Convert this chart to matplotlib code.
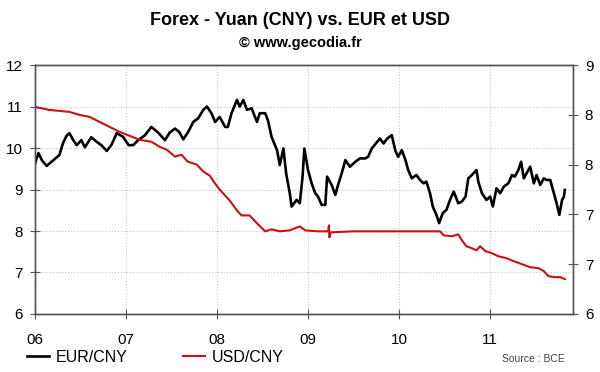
import matplotlib
matplotlib.use("Agg")
import matplotlib.pyplot as plt

plt.rcParams['font.family'] = ['Liberation Sans', 'DejaVu Sans']

# time in years since Jan 2006
t_eur = [0.00, 0.02, 0.04, 0.08, 0.13, 0.20, 0.27, 0.31, 0.35, 0.38, 0.42, 0.46, 0.51, 0.55,
         0.62, 0.68, 0.73, 0.79, 0.84, 0.90, 0.97, 1.03, 1.08, 1.135, 1.21, 1.28, 1.355, 1.43,
         1.48, 1.54, 1.585, 1.63, 1.685, 1.74, 1.795, 1.85, 1.89, 1.94, 1.98, 2.03, 2.09, 2.12,
         2.16, 2.22, 2.25, 2.29, 2.33, 2.38, 2.44, 2.47, 2.53, 2.56, 2.60, 2.66, 2.69, 2.73,
         2.76, 2.80, 2.82, 2.875, 2.91, 2.94, 2.96, 3.00, 3.04, 3.08, 3.11, 3.15, 3.19, 3.21,
         3.26, 3.30, 3.33, 3.37, 3.41, 3.46, 3.52, 3.57, 3.63, 3.66, 3.70, 3.73, 3.79, 3.83,
         3.87, 3.92, 3.96, 3.99, 4.03, 4.07, 4.10, 4.14, 4.19, 4.23, 4.27, 4.30, 4.34, 4.37,
         4.41, 4.44, 4.48, 4.52, 4.56, 4.60, 4.65, 4.69, 4.73, 4.76, 4.80, 4.85, 4.87, 4.91,
         4.96, 5.00, 5.03, 5.07, 5.11, 5.15, 5.20, 5.24, 5.27, 5.31, 5.34, 5.37, 5.40, 5.44,
         5.48, 5.51, 5.55, 5.59, 5.62, 5.66, 5.70, 5.73, 5.76, 5.79, 5.81, 5.82]
eur_cny = [9.60, 9.75, 9.88, 9.70, 9.57, 9.70, 9.83, 10.12, 10.30, 10.36, 10.20, 10.07, 10.19, 10.02,
           10.26, 10.15, 10.07, 9.93, 10.07, 10.36, 10.27, 10.07, 10.07, 10.19, 10.31, 10.51, 10.37, 10.19,
           10.37, 10.47, 10.39, 10.21, 10.39, 10.63, 10.72, 10.92, 11.00, 10.84, 10.63, 10.75, 10.51, 10.51,
           10.84, 11.16, 11.00, 11.16, 10.92, 10.96, 10.63, 10.84, 10.84, 10.67, 10.27, 9.95, 9.59, 9.99,
           9.39, 8.91, 8.59, 8.75, 8.67, 9.30, 9.99, 9.47, 9.15, 8.91, 8.83, 8.63, 8.63, 9.31,
           9.11, 8.87, 9.11, 9.39, 9.71, 9.55, 9.67, 9.75, 9.75, 9.79, 9.99, 10.07, 10.23, 10.11,
           10.23, 10.31, 9.93, 9.79, 9.95, 9.71, 9.47, 9.27, 9.35, 9.23, 9.15, 9.19, 8.91, 8.59,
           8.39, 8.19, 8.43, 8.51, 8.75, 8.95, 8.67, 8.71, 8.83, 9.27, 9.35, 9.47, 9.19, 8.91,
           8.75, 8.83, 8.59, 9.03, 8.91, 9.07, 9.15, 9.35, 9.31, 9.47, 9.67, 9.27, 9.39, 9.55,
           9.15, 9.35, 9.11, 9.27, 9.23, 9.23, 8.91, 8.67, 8.39, 8.75, 8.83, 8.99]

t_usd = [0.00, 0.16, 0.38, 0.49, 0.60, 0.71, 0.82, 0.93, 1.04, 1.15, 1.28, 1.37, 1.45, 1.54,
         1.61, 1.68, 1.78, 1.85, 1.92, 1.98, 2.03, 2.07, 2.14, 2.22, 2.27, 2.36, 2.44, 2.53,
         2.60, 2.69, 2.80, 2.91, 2.97, 3.10, 3.22, 3.23, 3.235, 3.25, 3.50, 4.00, 4.45, 4.49,
         4.58, 4.65, 4.69, 4.74, 4.80, 4.85, 4.89, 4.95, 5.02, 5.09, 5.18, 5.26, 5.35, 5.44,
         5.53, 5.59, 5.64, 5.70, 5.77, 5.82]
usd_cny = [8.08, 8.05, 8.03, 8.00, 7.98, 7.93, 7.88, 7.83, 7.79, 7.75, 7.73, 7.68, 7.65, 7.58,
           7.60, 7.53, 7.50, 7.43, 7.39, 7.31, 7.25, 7.21, 7.14, 7.04, 6.99, 6.99, 6.91, 6.83,
           6.85, 6.83, 6.84, 6.88, 6.84, 6.83, 6.83, 6.89, 6.77, 6.82, 6.83, 6.83, 6.83, 6.79,
           6.78, 6.80, 6.74, 6.68, 6.66, 6.64, 6.68, 6.63, 6.61, 6.58, 6.56, 6.53, 6.50, 6.47,
           6.46, 6.43, 6.38, 6.37, 6.37, 6.35]

year_labels = ['06', '07', '08', '09', '10', '11']
right_ticks = [6, 6.5, 7, 7.5, 8, 8.5]
right_labels = ['6', '7', '7', '8', '8', '9']

fig = plt.figure(figsize=(6, 3.72), dpi=100)
ax = fig.add_axes([0.058, 0.156, 0.897, 0.669])
ax2 = ax.twinx()

ax.plot(t_eur, eur_cny, color='black', lw=1.9, label='EUR/CNY')
ax2.plot(t_usd, usd_cny, color='#cc1010', lw=1.5, label='USD/CNY')

ax.set_xlim(0, 5.91)
ax.set_ylim(6, 12)
ax2.set_ylim(6, 8.5)
ax.set_xticks(range(len(year_labels)))
ax.set_xticklabels(year_labels)
ax.set_yticks(range(6, 13))
ax2.set_yticks(right_ticks)
ax2.set_yticklabels(right_labels)

ax.grid(True, color='#c8c8c8', ls=':', lw=0.8)
ax.set_axisbelow(True)

for a in (ax, ax2):
    for s in a.spines.values():
        s.set_color('#555555')
        s.set_linewidth(1.0)
ax.tick_params(axis='both', direction='inout', length=7, color='#555555', labelsize=11)
ax.tick_params(axis='x', pad=10)
ax.tick_params(axis='y', pad=5)
ax2.tick_params(axis='y', direction='inout', length=7, color='#555555', labelsize=11, pad=5)

fig.text(0.5, 0.945, 'Forex - Yuan (CNY) vs. EUR et USD', ha='center', va='center',
         fontsize=13, fontweight='bold')
fig.text(0.5, 0.884, '\u00a9 www.gecodia.fr', ha='center', va='center',
         fontsize=10.5, fontweight='bold')

fig.legend(loc='center left', bbox_to_anchor=(0.045, 0.04), ncol=2, frameon=False,
           fontsize=11.5, handlelength=1.4, handletextpad=0.4, columnspacing=3.45,
           borderpad=0, borderaxespad=0)
fig.text(0.942, 0.036, 'Source : BCE', ha='right', va='center', fontsize=7.5, color='#444444')

fig.savefig('out.png', dpi=100)
